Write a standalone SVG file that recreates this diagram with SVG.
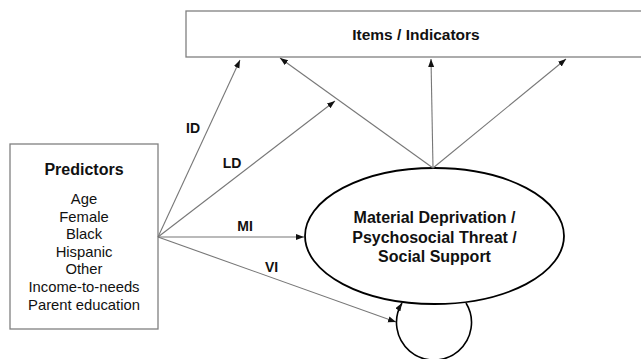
<svg xmlns="http://www.w3.org/2000/svg" width="641" height="359" viewBox="0 0 641 359">
<style>
.box{fill:#fff;stroke:#808080;stroke-width:1.3}
.ell{fill:#fff;stroke:#000;stroke-width:1.8}
.con{fill:none;stroke:#777;stroke-width:1.1}
.loop{fill:none;stroke:#000;stroke-width:1.6}
text{font-family:"Liberation Sans",Arial,sans-serif;fill:#111;text-anchor:middle}
.b{font-weight:bold}
.t{font-size:14px}
.p{font-size:14.8px}
.h{font-size:16px}
</style>
<defs>
<marker id="ah" markerUnits="userSpaceOnUse" markerWidth="9" markerHeight="7" refX="8" refY="3" orient="auto">
<path d="M0,0 L8,3 L0,6 z" fill="#111"/>
</marker>
</defs>
<g id="items">
<rect class="box" x="186" y="11" width="470" height="46"/>
<text class="b" x="416" y="40" style="font-size:15.5px">Items / Indicators</text>
</g>
<g id="predictors">
<rect class="box" x="10" y="144" width="148" height="185"/>
<text class="b h" x="84" y="175">Predictors</text>
<text class="p" x="84" y="204">Age</text>
<text class="p" x="84" y="222">Female</text>
<text class="p" x="84" y="239">Black</text>
<text class="p" x="84" y="257">Hispanic</text>
<text class="p" x="84" y="274">Other</text>
<text class="p" x="84" y="292">Income-to-needs</text>
<text class="p" x="84" y="310">Parent education</text>
</g>
<g id="latent">
<ellipse class="ell" cx="434.5" cy="236" rx="129.5" ry="68"/>
<text class="b h" x="434.5" y="223">Material Deprivation /</text>
<text class="b h" x="434.5" y="242.5">Psychosocial Threat /</text>
<text class="b h" x="434.5" y="262">Social Support</text>
</g>
<g id="connectors">
<line class="con" x1="158" y1="237" x2="240" y2="60" marker-end="url(#ah)"/>
<line class="con" x1="158" y1="237" x2="335" y2="101" marker-end="url(#ah)"/>
<line class="con" x1="158" y1="237" x2="304" y2="237" marker-end="url(#ah)"/>
<line class="con" x1="158" y1="237" x2="396" y2="322" marker-end="url(#ah)"/>
<line class="con" x1="433" y1="168" x2="280" y2="58" marker-end="url(#ah)"/>
<line class="con" x1="433" y1="168" x2="431" y2="59" marker-end="url(#ah)"/>
<line class="con" x1="433" y1="168" x2="566" y2="59" marker-end="url(#ah)"/>
<path class="loop" d="M466,303 A37.5,37.5 0 1 1 402,303" marker-end="url(#ah)"/>
<text class="b t" x="193" y="133">ID</text>
<text class="b t" x="232" y="168">LD</text>
<text class="b t" x="245" y="231">MI</text>
<text class="b t" x="271.5" y="272">VI</text>
</g>
</svg>
